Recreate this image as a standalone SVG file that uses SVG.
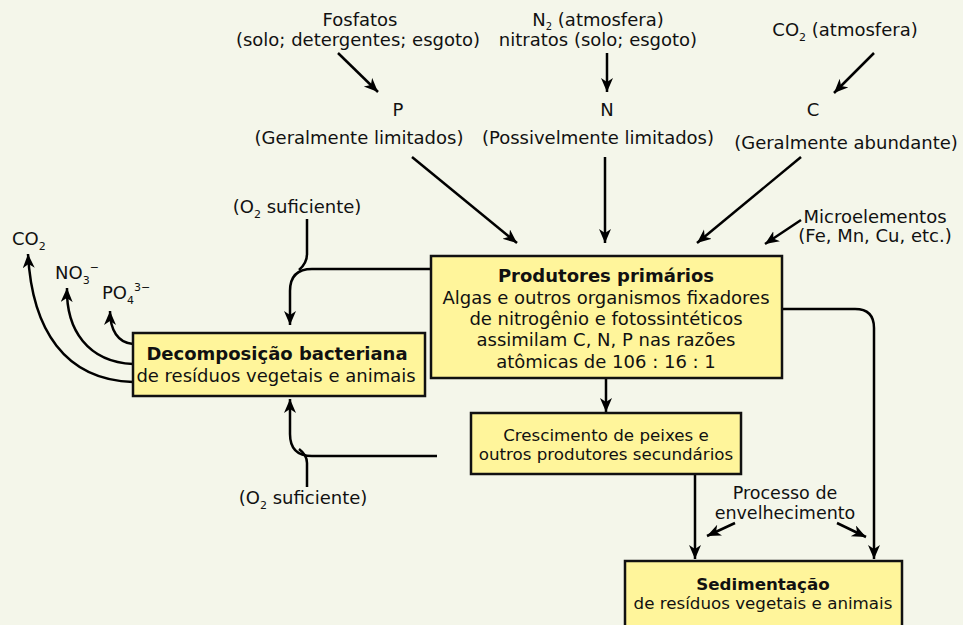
<svg xmlns="http://www.w3.org/2000/svg" width="963" height="625" viewBox="0 0 963 625">
<defs>
<marker id="ah" markerUnits="userSpaceOnUse" markerWidth="16" markerHeight="14" refX="14" refY="6" orient="auto">
<path d="M0,0 L14,6 L0,12 L4,6 z" fill="#000"/>
</marker>
<style>
text{font-family:"DejaVu Sans","Verdana",sans-serif;font-size:18px;fill:#111;text-anchor:middle}
.b{font-weight:bold}
.s{font-size:16.7px}
.box{fill:#fff59b;stroke:#111;stroke-width:2.5}
.c{fill:none;stroke:#000;stroke-width:2.5}
.a{marker-end:url(#ah)}
</style>
</defs>
<rect width="963" height="625" fill="#f4f6ea"/>
<g id="connectors">
<path class="c a" d="M338,53 L378,92"/>
<path class="c a" d="M607,53 V92"/>
<path class="c a" d="M874,53 L834,93"/>
<path class="c a" d="M412,157 L517,243"/>
<path class="c a" d="M605,157 V243"/>
<path class="c a" d="M801,157 L697,243"/>
<path class="c a" d="M801,220 L765,244"/>
<path class="c a" d="M431,269 H312 Q290,269 290,291 V325"/>
<path class="c" d="M307,219 V254 Q307,263 299,270"/>
<path class="c a" d="M437,456 H312 Q290,456 290,434 V399"/>
<path class="c" d="M307,487 V463 Q307,455 299,449"/>
<path class="c a" d="M133,382 C65,380 32,330 28,254"/>
<path class="c a" d="M133,364 C88,362 66,330 67,288"/>
<path class="c a" d="M133,344 C118,343 110,330 110,311"/>
<path class="c a" d="M606,378 V412"/>
<path class="c a" d="M782,309 H855 Q874,309 874,328 V559"/>
<path class="c a" d="M695,474 V559"/>
<path class="c a" d="M735,523 L707,536"/>
<path class="c a" d="M837,523 L866,537"/>
</g>
<g id="fosfatos">
<text x="360" y="26">Fosfatos</text>
<text x="358" y="46">(solo; detergentes; esgoto)</text>
</g>
<g id="nitrogenio">
<text x="598" y="26">N<tspan font-size="10" dy="3.5">2</tspan><tspan dy="-3.5"> (atmosfera)</tspan></text>
<text x="598" y="46">nitratos (solo; esgoto)</text>
</g>
<g id="co2atm">
<text x="845" y="36">CO<tspan font-size="11" dy="5">2</tspan><tspan dy="-5"> (atmosfera)</tspan></text>
</g>
<g id="P">
<text x="398" y="116">P</text>
<text x="359" y="144">(Geralmente limitados)</text>
</g>
<g id="N">
<text x="607" y="116">N</text>
<text x="598" y="144">(Possivelmente limitados)</text>
</g>
<g id="C">
<text x="813" y="116">C</text>
<text x="846" y="149">(Geralmente abundante)</text>
</g>
<g id="micro">
<text x="875" y="223">Microelementos</text>
<text x="875" y="242">(Fe, Mn, Cu, etc.)</text>
</g>
<g id="o2top">
<text x="297" y="213">(O<tspan font-size="11" dy="5">2</tspan><tspan dy="-5"> suficiente)</tspan></text>
</g>
<g id="o2bottom">
<text x="303" y="504">(O<tspan font-size="11" dy="5">2</tspan><tspan dy="-5"> suficiente)</tspan></text>
</g>
<g id="co2">
<text x="12" y="245" style="text-anchor:start">CO<tspan font-size="11" dy="5">2</tspan></text>
</g>
<g id="no3">
<text x="55" y="279" style="text-anchor:start">NO<tspan font-size="11" dy="5">3</tspan><tspan font-size="11" dy="-13">−</tspan></text>
</g>
<g id="po4">
<text x="102" y="299" style="text-anchor:start">PO<tspan font-size="11" dy="5">4</tspan><tspan font-size="11" dy="-13">3−</tspan></text>
</g>
<g id="produtores">
<rect class="box" x="431" y="256" width="351" height="122"/>
<text class="b" x="606" y="282">Produtores primários</text>
<text x="606" y="303.5">Algas e outros organismos fixadores</text>
<text x="606" y="325">de nitrogênio e fotossintéticos</text>
<text x="606" y="346">assimilam C, N, P nas razões</text>
<text x="606" y="367.5">atômicas de 106 : 16 : 1</text>
</g>
<g id="decomposicao">
<rect class="box" x="133" y="333" width="292" height="63"/>
<text class="b" x="277" y="360">Decomposição bacteriana</text>
<text x="276" y="382">de resíduos vegetais e animais</text>
</g>
<g id="crescimento">
<rect class="box" x="471" y="413" width="270" height="61"/>
<text class="s" x="606" y="441">Crescimento de peixes e</text>
<text class="s" x="606" y="460">outros produtores secundários</text>
</g>
<g id="processo">
<text x="785" y="499" style="font-size:17.5px">Processo de</text>
<text x="785" y="519" style="font-size:17.5px">envelhecimento</text>
</g>
<g id="sedimentacao">
<rect class="box" x="625" y="561" width="277" height="70"/>
<text class="s b" x="763" y="590">Sedimentação</text>
<text class="s" x="763" y="609">de resíduos vegetais e animais</text>
</g>
</svg>
